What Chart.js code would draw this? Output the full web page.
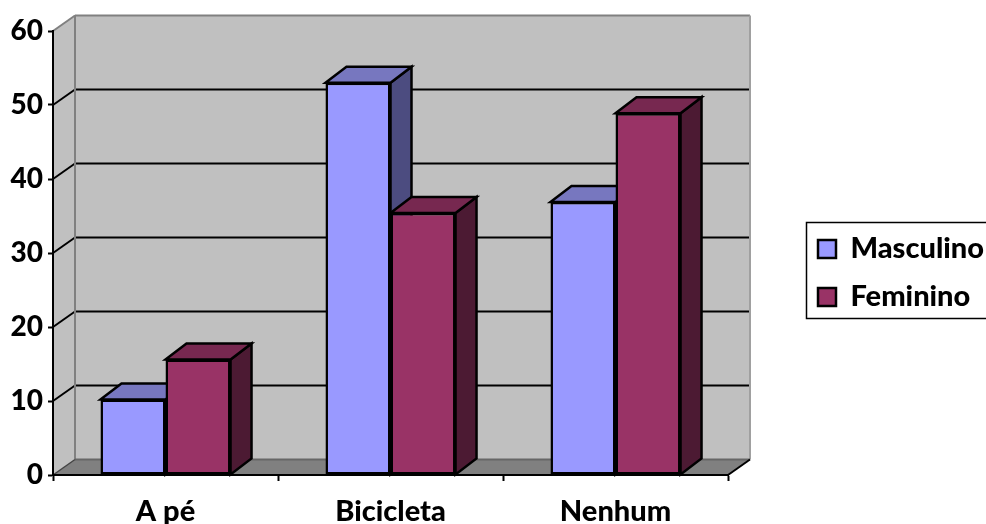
<!DOCTYPE html>
<html><head><meta charset="utf-8">
<style>html,body{margin:0;padding:0;background:#fff;overflow:hidden}#wrap{position:relative;width:986px;height:524px}</style>
<script src="https://cdn.jsdelivr.net/npm/chart.js@4"></script>
</head><body><div id="wrap"><canvas id="c" width="986" height="524"></canvas></div>
<script>
const categories = ['A pé', 'Bicicleta', 'Nenhum'];
const seriesNames = ['Masculino', 'Feminino'];
const masculino = [10.2, 53, 36.9];
const feminino = [15.6, 35.4, 48.9];

const FONT = 'Lato';
const wallDepth = {x: 22, y: -15.5};
const barDepth = {x: 21, y: -16};
const faceColors = [
  {top: '#7777bf', side: '#4c4c80'},
  {top: '#772850', side: '#4c1a33'}
];

function poly(ctx, pts, fill, stroke, lw) {
  ctx.beginPath();
  pts.forEach((p, i) => i ? ctx.lineTo(p[0], p[1]) : ctx.moveTo(p[0], p[1]));
  ctx.closePath();
  if (fill) { ctx.fillStyle = fill; ctx.fill(); }
  if (stroke) { ctx.strokeStyle = stroke; ctx.lineWidth = lw; ctx.lineJoin = 'miter'; ctx.stroke(); }
}
function seg(ctx, x1, y1, x2, y2, color, lw) {
  ctx.beginPath(); ctx.moveTo(x1, y1); ctx.lineTo(x2, y2);
  ctx.strokeStyle = color; ctx.lineWidth = lw; ctx.stroke();
}

const plot3d = {
  id: 'plot3d',
  afterInit(chart) {
    const lg = chart.legend, fit = lg.fit;
    lg.fit = function () { fit.call(this); this.width = 258; };
  },
  beforeDraw(chart) {
    const {ctx, chartArea: a, scales: {y}} = chart;
    const dx = wallDepth.x, dy = wallDepth.y;
    const L = a.left, R = a.right, T = a.top, B = a.bottom;
    ctx.save();
    poly(ctx, [[L, T], [L + dx, T + dy], [L + dx, B + dy], [L, B]], '#c0c0c0');
    poly(ctx, [[L + dx, T + dy], [R + dx, T + dy], [R + dx, B + dy], [L + dx, B + dy]], '#c0c0c0');
    poly(ctx, [[L, B], [L + dx, B + dy], [R + dx, B + dy], [R, B]], '#808080');
    y.ticks.forEach(t => {
      const py = y.getPixelForValue(t.value);
      if (t.value === y.max || t.value === y.min) return;
      seg(ctx, L, py, L + dx, py + dy, '#000', 2);
      seg(ctx, L + dx, py + dy, R + dx, py + dy, '#000', 2);
    });
    seg(ctx, L, T, L + dx, T + dy, '#808080', 2);
    seg(ctx, L + dx, T + dy, R + dx, T + dy, '#808080', 2);
    seg(ctx, L + dx, T + dy, L + dx, B + dy, '#808080', 2);
    seg(ctx, R + dx, T + dy, R + dx, B + dy, '#a0a0a0', 2);
    seg(ctx, L + dx, B + dy, R + dx, B + dy, '#666', 2);
    seg(ctx, L, B, L + dx, B + dy, '#444', 1.5);
    seg(ctx, R, B, R + dx, B + dy, '#000', 2);
    const lg = chart.legend;
    poly(ctx, [[806.5, 222.5], [1000, 222.5], [1000, 318.5], [806.5, 318.5]], '#fff', '#000', 1.5);
    lg.left = 799; lg.top = 215.5; lg.right = 1000; lg.bottom = 524;
    ctx.restore();
  },
  beforeDatasetsDraw(chart) {
    const ctx = chart.ctx, dx = barDepth.x, dy = barDepth.y;
    ctx.save();
    chart.data.datasets.forEach((ds, di) => {
      chart.getDatasetMeta(di).data.forEach(bar => {
        const l = bar.x - bar.width / 2, r = bar.x + bar.width / 2, t = bar.y, b = bar.base;
        poly(ctx, [[r, t], [r + dx, t + dy], [r + dx, b + dy], [r, b]], faceColors[di].side, '#000', 2.5);
        poly(ctx, [[l, t], [l + dx, t + dy], [r + dx, t + dy], [r, t]], faceColors[di].top, '#000', 2.5);
      });
    });
    ctx.restore();
  }
};

new Chart(document.getElementById('c'), {
  type: 'bar',
  data: {
    labels: categories,
    datasets: [
      {label: seriesNames[0], data: masculino, backgroundColor: '#9999ff', borderColor: '#000', borderWidth: 2.5, borderSkipped: false},
      {label: seriesNames[1], data: feminino, backgroundColor: '#993366', borderColor: '#000', borderWidth: 2.5, borderSkipped: false}
    ]
  },
  options: {
    responsive: false,
    animation: false,
    events: [],
    layout: {padding: {left: 0, right: 0, top: 31, bottom: 0}},
    datasets: {bar: {categoryPercentage: 0.578, barPercentage: 1}},
    plugins: {
      title: {display: false},
      tooltip: {enabled: false},
      legend: {
        position: 'right', align: 'start',
        labels: {boxWidth: 18, boxHeight: 18, padding: 19, color: '#000', font: {family: FONT, size: 29, weight: '900'}}
      }
    },
    scales: {
      x: {
        afterFit(s) { s.height = 49; },
        grid: {drawOnChartArea: false, drawTicks: true, tickLength: 6, tickColor: '#000', tickWidth: 2},
        border: {color: '#000', width: 2},
        ticks: {color: '#000', padding: 13, maxRotation: 0, font: {family: FONT, size: 29, weight: '900'}}
      },
      y: {
        min: 0, max: 60,
        afterFit(s) { s.width = 53; },
        grid: {drawOnChartArea: false, drawTicks: true, tickLength: 5, tickColor: '#000', tickWidth: 2},
        border: {color: '#000', width: 2},
        ticks: {stepSize: 10, color: '#000', padding: 5, font: {family: FONT, size: 28, weight: '900'}}
      }
    }
  },
  plugins: [plot3d]
});
</script></body></html>
